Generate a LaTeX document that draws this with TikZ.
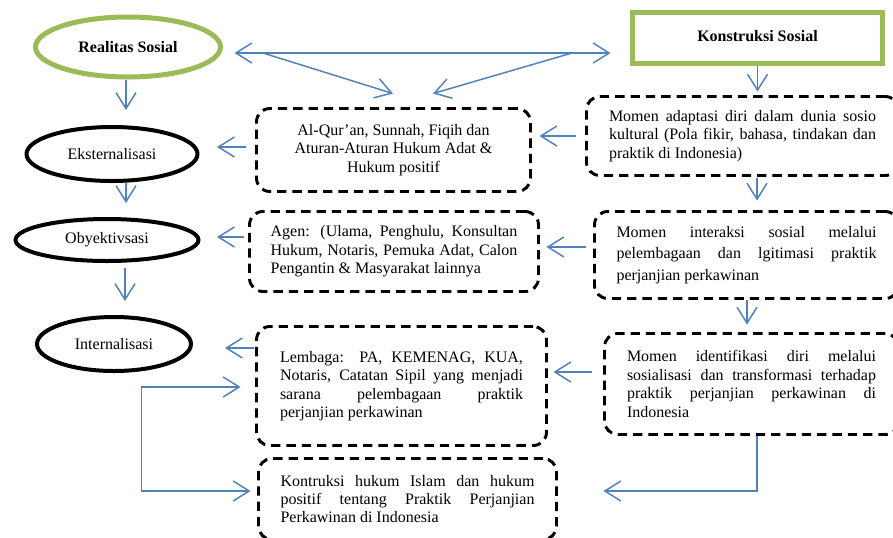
\documentclass[tikz,border=0pt]{standalone}
\usepackage{fontspec}
\setmainfont{Liberation Serif}
\usetikzlibrary{arrows.meta,calc,shapes.geometric}
\definecolor{leaf}{HTML}{9BBB59}
\definecolor{flow}{HTML}{4F81BD}

\begin{document}
\begin{tikzpicture}[x=0.75pt,y=-0.75pt,font=\fontsize{12}{13.8}\selectfont,
 >={Straight Barb[length=12pt,width=15pt]},
 oval/.style={ellipse,draw=black,line width=3pt,inner sep=0pt},
 dbox/.style={draw=black,line width=2.2pt,dash pattern=on 7pt off 4.5pt,rounded corners=10pt,inner sep=0pt,align=justify},
 arr/.style={draw=flow,line width=1.1pt,->}]
\clip (0,0) rectangle (893,537);
% the two heads
\node[oval,draw=leaf,line width=3.75pt,minimum width=138.75pt,minimum height=45pt,font=\fontsize{12}{13.8}\selectfont\bfseries] (real) at (128,47) {Realitas Sosial};
\node[draw=leaf,line width=3.75pt,minimum width=187.5pt,minimum height=38.25pt,inner sep=0pt,font=\fontsize{12}{13.8}\selectfont\bfseries] (konst) at (757.5,38) {\raisebox{3pt}{Konstruksi Sosial}};
% left column: the three moments
\node[oval,minimum width=128.25pt,minimum height=40.5pt] (ekst) at (112,154) {Eksternalisasi};
\node[oval,minimum width=137.25pt,minimum height=31.5pt] (obyek) at (107,240) {Obyektivsasi};
\node[oval,minimum width=115.5pt,minimum height=40.5pt] (intern) at (114,344) {Internalisasi};
% middle column
\node[dbox,align=center,minimum width=205.5pt,minimum height=62.25pt] (alq) at (393.5,150) {Al-Qur’an, Sunnah, Fiqih dan\\Aturan-Aturan Hukum Adat \&\\Hukum positif};
\node[dbox,text width=185pt,minimum width=216.75pt,minimum height=60pt] (agen) at (394,251.5) {Agen: (Ulama, Penghulu, Konsultan\linebreak Hukum, Notaris, Pemuka Adat, Calon\linebreak Pengantin \& Masyarakat lainnya};
\node[dbox,text width=182.25pt,minimum width=217.5pt,minimum height=89.25pt] (lemb) at (401.5,386) {Lembaga: PA, KEMENAG, KUA,\linebreak Notaris, Catatan Sipil yang menjadi\linebreak sarana pelembagaan praktik\linebreak perjanjian perkawinan\par\vspace{11pt}};
\node[dbox,text width=190.5pt,minimum width=223.5pt,minimum height=60.75pt] (kontr) at (407.5,499) {Kontruksi hukum Islam dan hukum\linebreak positif tentang Praktik Perjanjian\linebreak Perkawinan di Indonesia};
% right column
\node[dbox,text width=200.25pt,minimum width=234pt,minimum height=59.25pt] (adapt) at (742.5,136) {Momen adaptasi diri dalam dunia sosio\linebreak kultural (Pola fikir, bahasa, tindakan dan\linebreak praktik di Indonesia)};
\node[dbox,text width=195pt,minimum width=228pt,minimum height=65.25pt,font=\fontsize{12}{16}\selectfont] (inter) at (746.5,255) {Momen interaksi sosial melalui\linebreak pelembagaan dan lgitimasi praktik\linebreak perjanjian perkawinan};
\node[dbox,text width=186.75pt,minimum width=220.5pt,minimum height=75.75pt] (ident) at (751.5,384) {Momen identifikasi diri melalui\linebreak sosialisasi dan transformasi terhadap\linebreak praktik perjanjian perkawinan di\linebreak Indonesia};
% arrows
\coordinate (fork1) at (263,53);
\coordinate (fork2) at (572,53);
\draw[arr,<->] ([shift={(11.5,6)}]real.east) -- ([shift={(-19.5,15)}]konst.west);
\draw[arr] (fork1) -- ([shift={(-0.5,-13.5)}]alq.north);
\draw[arr] (fork2) -- ([shift={(39.5,-13.5)}]alq.north);
\draw[arr] ([shift={(-2,0)}]real.south) -- ([shift={(14,-15)}]ekst.north);
\draw[arr] ([shift={(14,0)}]ekst.south) -- ([shift={(19,-14)}]obyek.north);
\draw[arr] ([shift={(18,5)}]obyek.south) -- ([shift={(11,-14)}]intern.north);
\draw[arr] ([shift={(-9.5,-3)}]alq.west) -- ([shift={(17.5,-7)}]ekst.east);
\draw[arr] ([shift={(-9.5,0)}]adapt.west) -- ([shift={(7.5,-14)}]alq.east);
\draw[arr] (konst.south) -- ([shift={(15,-3.5)}]adapt.north);
\draw[arr] ([shift={(14.5,1.5)}]adapt.south) -- ([shift={(10.5,-9.5)}]inter.north);
\draw[arr] ([shift={(-7.5,-8)}]inter.west) -- ([shift={(6.5,-4.5)}]agen.east);
\draw[arr] ([shift={(-4.5,-14.5)}]agen.west) -- ([shift={(16.5,-3)}]obyek.east);
\draw[arr] ([shift={(0.5,0)}]inter.south) -- ([shift={(-4.5,-7.5)}]ident.north);
\draw[arr] ([shift={(-11.5,-12)}]ident.west) -- ([shift={(5.5,-14)}]lemb.east);
\draw[arr] ([shift={(-1.5,-38)}]lemb.west) -- ([shift={(32,4)}]intern.east);
\draw[arr,<->] ([shift={(-14.5,1)}]lemb.west) -- ++(-99,0) |- ([shift={(-6.5,-8)}]kontr.west);
\draw[arr] ([shift={(5.5,0)}]ident.south) |- ([shift={(45.5,-8)}]kontr.east);
\end{tikzpicture}
\end{document}
